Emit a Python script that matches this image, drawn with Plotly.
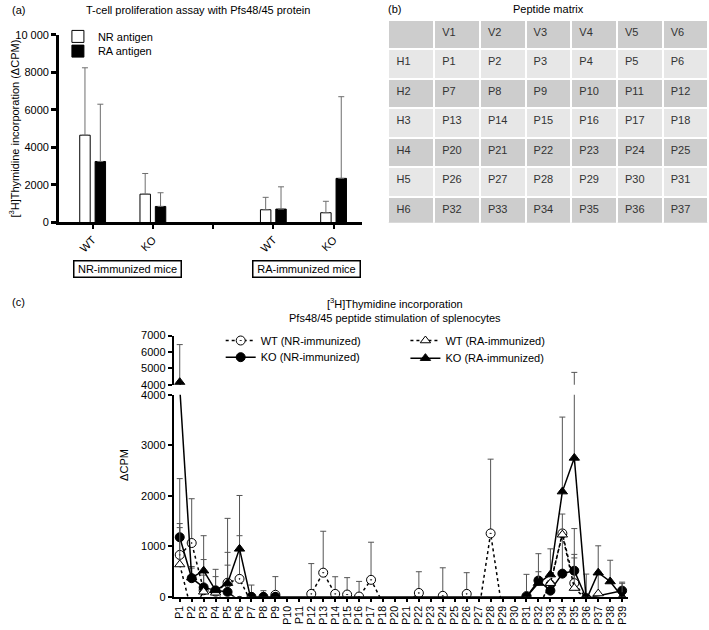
import plotly.graph_objects as go

W, H = 709, 630
FONT = "Arial, Liberation Sans, sans-serif"


def fx(p):
    return p / W


def fy(p):
    return 1 - p / H


# ---------------- Panel (a) data ----------------
groups = ["WT", "KO", "", "WT", "KO"]
group_pos = [0, 1, 2, 3, 4]
bar_pos = [0, 1, 3, 4]
nr_antigen = [4650, 1510, 680, 520]
nr_antigen_err = [3590, 1100, 660, 610]
ra_antigen = [3250, 855, 715, 2350]
ra_antigen_err = [3050, 730, 1185, 4350]
a_yticks = [0, 2000, 4000, 6000, 8000, 10000]
a_yticklabels = ["0", "2000", "4000", "6000", "8000", "10 000"]

# ---------------- Panel (b) data ----------------
matrix_header = ["", "V1", "V2", "V3", "V4", "V5", "V6"]
matrix_rows = ["H1", "H2", "H3", "H4", "H5", "H6"]
peptide_grid = [
    ["P1", "P2", "P3", "P4", "P5", "P6"],
    ["P7", "P8", "P9", "P10", "P11", "P12"],
    ["P13", "P14", "P15", "P16", "P17", "P18"],
    ["P20", "P21", "P22", "P23", "P24", "P25"],
    ["P26", "P27", "P28", "P29", "P30", "P31"],
    ["P32", "P33", "P34", "P35", "P36", "P37"],
]

# ---------------- Panel (c) data ----------------
peptides = ["P1", "P2", "P3", "P4", "P5", "P6", "P7", "P8", "P9", "P10",
            "P11", "P12", "P13", "P14", "P15", "P16", "P17", "P18",
            "P20", "P21", "P22", "P23", "P24", "P25", "P26", "P27", "P28",
            "P29", "P30", "P31", "P32", "P33", "P34", "P35", "P36", "P37",
            "P38", "P39"]
N = None
wt_nr = [830, 1065, 130, 100, 280, 355, -120, -120, 40, -150,
         -150, 58, 478, 58, 45, 5, 336, -130,
         -150, -120, 77, -200, 20, -200, 58, -300, 1255,
         -300, -250, 15, -200, 240, 1255, 271, -30, -150,
         -150, -150]
wt_nr_err = [620, 877, 300, N, 347, 855, N, N, 360, N,
             N, 600, 820, 340, 335, 300, 745, N,
             N, N, 420, N, 555, N, 420, N, 1470,
             N, N, 430, N, N, N, 1080, 480, N,
             N, N]
ko_nr = [1180, 369, 187, 128, 97, -80, 0, 0, 0, N,
         N, N, N, N, N, N, N, N,
         N, N, N, N, N, N, N, N, N,
         N, N, 0, 323, 122, 459, 517, -30, N,
         N, 122]
ko_nr_err = [1160, 200, 551, 416, 783, N, 233, 122, N, N,
             N, N, N, N, N, N, N, N,
             N, N, N, N, N, N, N, N, N,
             N, N, N, 531, 194, 1180, 323, N, N,
             N, 169]
wt_ra = [640, -300, 100, 80, -150, -200, -150, -150, -150, N,
         N, N, N, N, N, N, N, N,
         N, N, N, N, N, N, N, N, N,
         N, N, -100, -200, 270, 1230, 174, -50, 64,
         -150, -150]
wt_ra_err = [730, N, N, N, N, N, N, N, N, N,
             N, N, N, N, N, N, N, N,
             N, N, N, N, N, N, N, N, N,
             N, N, N, N, N, N, 596, N, 433,
             N, N]
ko_ra = [4150, 380, 517, 128, 271, 950, -100, -100, 0, N,
         N, N, N, N, N, N, N, N,
         N, N, N, N, N, N, N, N, N,
         N, N, 0, 272, 440, 2083, 2750, -60, 478,
         303, 0]
ko_ra_err = [2300, 220, 693, 272, 1282, 1056, N, N, N, N,
             N, N, N, N, N, N, N, N,
             N, N, N, N, N, N, N, N, N,
             N, N, N, 225, 510, 1475, 2000, N, 532,
             421, 267]
c_low_ticks = [0, 1000, 2000, 3000, 4000]
c_high_ticks = [4000, 5000, 6000, 7000]

fig = go.Figure()

# ---------------- Panel (a) bars ----------------
err_color = "#6e6e6e"
fig.add_trace(go.Bar(
    x=bar_pos, y=nr_antigen, name="NR antigen", xaxis="x", yaxis="y",
    marker=dict(color="white", line=dict(color="black", width=1)),
    error_y=dict(type="data", array=nr_antigen_err, arrayminus=[0] * len(bar_pos),
                 symmetric=False, color=err_color, thickness=1, width=3),
    legend="legend", showlegend=True))
fig.add_trace(go.Bar(
    x=bar_pos, y=ra_antigen, name="RA antigen", xaxis="x", yaxis="y",
    marker=dict(color="black", line=dict(color="black", width=1)),
    error_y=dict(type="data", array=ra_antigen_err, arrayminus=[0] * len(bar_pos),
                 symmetric=False, color=err_color, thickness=1, width=3),
    legend="legend2", showlegend=True))

# ---------------- Panel (b) table ----------------
dark = "#cdcdcd"
light = "#e7e7e7"
row_colors = [light if i % 2 == 0 else dark for i in range(len(matrix_rows))]
columns = [matrix_rows] + [[row[j] for row in peptide_grid] for j in range(6)]
fig.add_trace(go.Table(
    domain=dict(x=[fx(388), fx(709)], y=[fy(221), fy(14)]),
    columnwidth=[1] * 7,
    header=dict(values=matrix_header, fill_color=dark, align="left",
                line=dict(color="white", width=2), height=29.5,
                font=dict(family=FONT, size=11, color="#333333")),
    cells=dict(values=columns, fill_color=[row_colors] * 7, align="left",
               line=dict(color="white", width=2), height=29.5,
               font=dict(family=FONT, size=11, color="#333333")),
))

# ---------------- Panel (c) lines ----------------
series = [
    ("WT (NR-immunized)", wt_nr, wt_nr_err, "circle-dot", "white", "dot", "legend3", True),
    ("KO (NR-immunized)", ko_nr, ko_nr_err, "circle", "black", "solid", "legend4", True),
    ("WT (RA-immunized)", wt_ra, wt_ra_err, "triangle-up", "white", "dot", "legend5", False),
    ("KO (RA-immunized)", ko_ra, ko_ra_err, "triangle-up", "black", "solid", "legend6", False),
]
for yax in ["y2", "y3"]:
    for name, vals, errs, sym, fill, dash, leg, cg in series:
        fig.add_trace(go.Scatter(
            x=peptides, y=vals, name=name, mode="lines+markers",
            xaxis="x2", yaxis=yax, legend=leg, showlegend=(yax == "y2"),
            connectgaps=cg,
            line=dict(color="black", width=1.5, dash=dash),
            marker=dict(symbol=sym, size=9, color=fill, line=dict(color="black", width=1)),
            error_y=dict(type="data", array=errs, arrayminus=[0] * len(vals),
                         symmetric=False, color="#555555", thickness=1, width=3),
        ))

axis_common = dict(showgrid=False, zeroline=False, showline=True, linecolor="black",
                   ticks="outside", tickcolor="black",
                   tickfont=dict(family=FONT, size=11, color="black"))


def one_legend(xp, yp):
    return dict(x=fx(xp), y=fy(yp), xanchor="left", yanchor="middle", visible=True,
                bgcolor="rgba(0,0,0,0)", font=dict(family=FONT, size=11, color="black"),
                itemwidth=30, tracegroupgap=0)


fig.update_layout(
    width=W, height=H, margin=dict(l=0, r=0, t=0, b=0),
    paper_bgcolor="white", plot_bgcolor="white", showlegend=True,
    font=dict(family=FONT, size=11, color="black"),
    barmode="group", bargap=0.49, bargroupgap=0.32,
    xaxis=dict(domain=[fx(58), fx(362)], range=[-0.56, 4.48], anchor="y",
               tickvals=group_pos, ticktext=groups, tickangle=-45,
               linewidth=2.5, ticklen=4, tickwidth=2, **axis_common),
    yaxis=dict(domain=[fy(220.7), fy(29.3)], range=[0, 10000], anchor="x",
               tickvals=a_yticks, ticktext=a_yticklabels,
               linewidth=2.5, ticklen=5, tickwidth=2.5, **axis_common),
    xaxis2=dict(domain=[fx(173), fx(628)], range=[-0.5, 37.5], anchor="y2",
                type="category", categoryorder="array", categoryarray=peptides,
                tickmode="array", tickvals=peptides, ticktext=peptides,
                tickangle=-90, linewidth=2, ticklen=3, tickwidth=1.5,
                **{**axis_common, "tickfont": dict(family=FONT, size=10.5, color="black")}),
    yaxis2=dict(domain=[fy(602.3), fy(396.3)], range=[0, 4000], anchor="x2",
                tickvals=c_low_ticks, linewidth=2, ticklen=4, tickwidth=2, **axis_common),
    yaxis3=dict(domain=[fy(386), fy(336)], range=[4000, 7000], anchor="x2",
                tickvals=c_high_ticks, linewidth=2, ticklen=4, tickwidth=2, **axis_common),
    legend=one_legend(57, 31),
    legend2=one_legend(57, 46),
    legend3=one_legend(220, 341),
    legend4=one_legend(220, 358),
    legend5=one_legend(405, 341),
    legend6=one_legend(405, 359),
)

ann = [
    dict(text="(a)", x=fx(9), y=fy(4), xanchor="left"),
    dict(text="T-cell proliferation assay with Pfs48/45 protein", x=fx(197), y=fy(4)),
    dict(text="(b)", x=fx(386), y=fy(3), xanchor="left"),
    dict(text="Peptide matrix", x=fx(548), y=fy(3)),
    dict(text="(c)", x=fx(9), y=fy(302), xanchor="left"),
    dict(text="[<sup>3</sup>H]Thymidine incorporation<br>Pfs48/45 peptide stimulation of splenocytes",
         x=fx(395), y=fy(310)),
    dict(text="[<sup>3</sup>H]Thymidine incorporation (ΔCPM)", x=fx(13), y=fy(125), textangle=-90),
    dict(text="ΔCPM", x=fx(123), y=fy(468), textangle=-90),
    dict(text="NR-immunized mice", x=fx(126.7), y=fy(268.3), bordercolor="black",
         borderwidth=1.5, borderpad=1, width=104, height=13),
    dict(text="RA-immunized mice", x=fx(305.8), y=fy(268.3), bordercolor="black",
         borderwidth=1.5, borderpad=1, width=104, height=13),
]
for a in ann:
    a.setdefault("xanchor", "center")
    a.update(xref="paper", yref="paper", showarrow=False, yanchor="middle",
             font=dict(family=FONT, size=11, color="black"))
fig.update_layout(annotations=ann)

fig.write_html("out.html", config={"displayModeBar": False},
               post_script="document.body.style.margin='0';document.body.style.padding='0';")
